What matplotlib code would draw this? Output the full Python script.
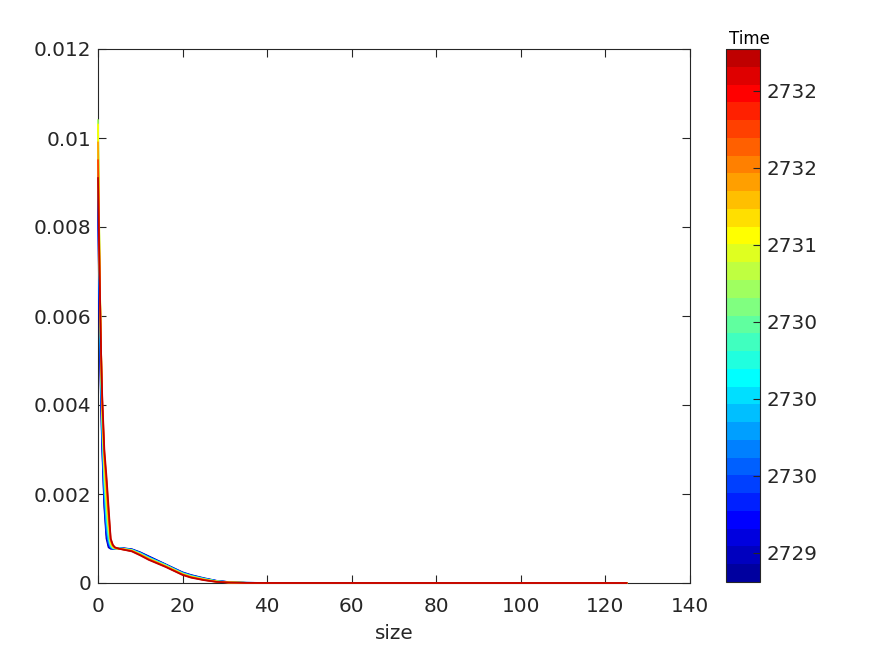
import numpy as np
import matplotlib
matplotlib.use("Agg")
import matplotlib.pyplot as plt
from matplotlib import cm, colors

size = [0, 0.25, 0.5, 0.75, 1, 1.5, 2, 2.5, 3, 3.5, 4, 5, 6, 8, 10,
        12, 14, 16, 18, 20, 22, 25, 28, 31, 35, 40, 125]

# time of each plotted curve
times = [2728.81, 2729.17, 2729.53, 2730.00, 2730.36,
         2730.72, 2731.08, 2731.43, 2731.79, 2732.27]

# curve values in units of 1e-3, one row per time
dist = [
    [8.6, 6.6, 5.0, 3.9, 3.0, 1.7, 1.0, 0.80, 0.77, 0.77, 0.77, 0.78, 0.78, 0.76, 0.69, 0.60, 0.51, 0.42, 0.33, 0.24, 0.18, 0.110, 0.050, 0.020, 0.005, 0.001, 0],
    [8.8, 6.8, 5.2, 4.0, 3.1, 1.8, 1.1, 0.84, 0.78, 0.77, 0.77, 0.78, 0.78, 0.75, 0.68, 0.59, 0.50, 0.41, 0.32, 0.23, 0.17, 0.100, 0.047, 0.019, 0.005, 0.001, 0],
    [9.3, 7.2, 5.5, 4.3, 3.3, 2.0, 1.2, 0.90, 0.80, 0.78, 0.77, 0.78, 0.77, 0.75, 0.67, 0.58, 0.49, 0.41, 0.32, 0.23, 0.17, 0.100, 0.044, 0.018, 0.004, 0.001, 0],
    [9.8, 7.6, 5.9, 4.6, 3.5, 2.2, 1.4, 0.98, 0.82, 0.78, 0.77, 0.78, 0.77, 0.74, 0.67, 0.57, 0.49, 0.40, 0.31, 0.22, 0.16, 0.095, 0.041, 0.017, 0.004, 0.001, 0],
    [10.2, 8.0, 6.2, 4.8, 3.7, 2.4, 1.6, 1.08, 0.85, 0.79, 0.78, 0.78, 0.77, 0.74, 0.66, 0.56, 0.48, 0.40, 0.30, 0.21, 0.15, 0.090, 0.038, 0.015, 0.004, 0.001, 0],
    [10.4, 8.2, 6.4, 5.0, 3.8, 2.5, 1.8, 1.20, 0.88, 0.80, 0.78, 0.77, 0.76, 0.73, 0.65, 0.55, 0.47, 0.39, 0.30, 0.21, 0.15, 0.085, 0.036, 0.014, 0.004, 0.001, 0],
    [10.3, 8.2, 6.4, 5.1, 3.9, 2.7, 1.9, 1.30, 0.90, 0.81, 0.78, 0.77, 0.76, 0.73, 0.64, 0.55, 0.46, 0.38, 0.29, 0.20, 0.14, 0.080, 0.033, 0.013, 0.003, 0.001, 0],
    [9.9, 8.0, 6.4, 5.1, 4.0, 2.8, 2.1, 1.45, 0.94, 0.83, 0.79, 0.77, 0.76, 0.72, 0.64, 0.54, 0.46, 0.37, 0.28, 0.19, 0.13, 0.075, 0.030, 0.012, 0.003, 0.001, 0],
    [9.5, 7.8, 6.3, 5.1, 4.1, 2.9, 2.3, 1.60, 0.98, 0.85, 0.80, 0.77, 0.75, 0.72, 0.63, 0.53, 0.45, 0.37, 0.28, 0.19, 0.13, 0.070, 0.028, 0.011, 0.003, 0.001, 0],
    [9.1, 7.6, 6.3, 5.1, 4.2, 3.0, 2.4, 1.70, 1.00, 0.86, 0.80, 0.77, 0.75, 0.71, 0.62, 0.52, 0.44, 0.36, 0.27, 0.18, 0.12, 0.065, 0.025, 0.010, 0.003, 0.001, 0],
]

# colour scale of the colorbar
t_min = 2728.81
t_max = 2732.27
n_levels = 30
cbar_ticks = [2729, 2729.5, 2730, 2730.5, 2731, 2731.5, 2732]
cbar_labels = ["2729", "2730", "2730", "2730", "2731", "2732", "2732"]


def matlab_jet(m):
    # same construction as MATLAB's jet(m)
    n = int(np.ceil(m / 4))
    u = np.concatenate([np.arange(1, n + 1) / n, np.ones(n - 1),
                        np.arange(n, 0, -1) / n])
    g = int(np.ceil(n / 2)) - (1 if m % 4 == 1 else 0) + np.arange(1, len(u) + 1)
    r = g + n
    b = g - n
    g = g[g <= m]
    r = r[r <= m]
    b = b[b >= 1]
    J = np.zeros((m, 3))
    J[r - 1, 0] = u[:len(r)]
    J[g - 1, 1] = u[:len(g)]
    J[b - 1, 2] = u[len(u) - len(b):]
    return colors.ListedColormap(J)


plt.rcParams["font.family"] = "DejaVu Sans"
plt.rcParams["font.size"] = 14.4
txt_col = "#262626"

fig = plt.figure(figsize=(8.75, 6.55), dpi=100)
ax = fig.add_axes([98 / 875, 72 / 655, 592 / 875, 534 / 655])
cax = fig.add_axes([726 / 875, 73 / 655, 34 / 875, 533 / 655])

cmap = matlab_jet(n_levels)
norm = colors.Normalize(vmin=t_min, vmax=t_max)

x = np.array(size)
for t, row in zip(times, dist):
    ax.plot(x, np.array(row) * 1e-3, color=cmap(norm(t)), lw=1.25,
            zorder=3, clip_on=False)

ax.set_xlim(0, 140)
ax.set_ylim(0, 0.012)
ax.set_xticks(np.arange(0, 141, 20))
ax.set_yticks(np.arange(0, 0.0121, 0.002))
ax.set_yticklabels(["0", "0.002", "0.004", "0.006", "0.008", "0.01", "0.012"])
ax.tick_params(direction="in", length=6, width=0.8, top=True, right=True,
               colors=txt_col, labelsize=14.4, pad=5)
ax.tick_params(axis="x", pad=10)
for s in ax.spines.values():
    s.set_color(txt_col)
    s.set_linewidth(0.8)
ax.set_xlabel("size", color=txt_col, fontsize=14.4, labelpad=6)

sm = cm.ScalarMappable(norm=norm, cmap=cmap)
cb = fig.colorbar(sm, cax=cax)
cb.set_ticks(cbar_ticks)
cb.set_ticklabels(cbar_labels)
cb.ax.tick_params(direction="in", length=5, width=0.8, colors=txt_col,
                  labelsize=14.4, pad=5)
cb.outline.set_edgecolor(txt_col)
cb.outline.set_linewidth(0.8)
fig.text(749 / 875, (655 - 44) / 655, "Time", fontsize=12, color="black",
         ha="center", va="baseline")

fig.savefig("out.png", dpi=100)
